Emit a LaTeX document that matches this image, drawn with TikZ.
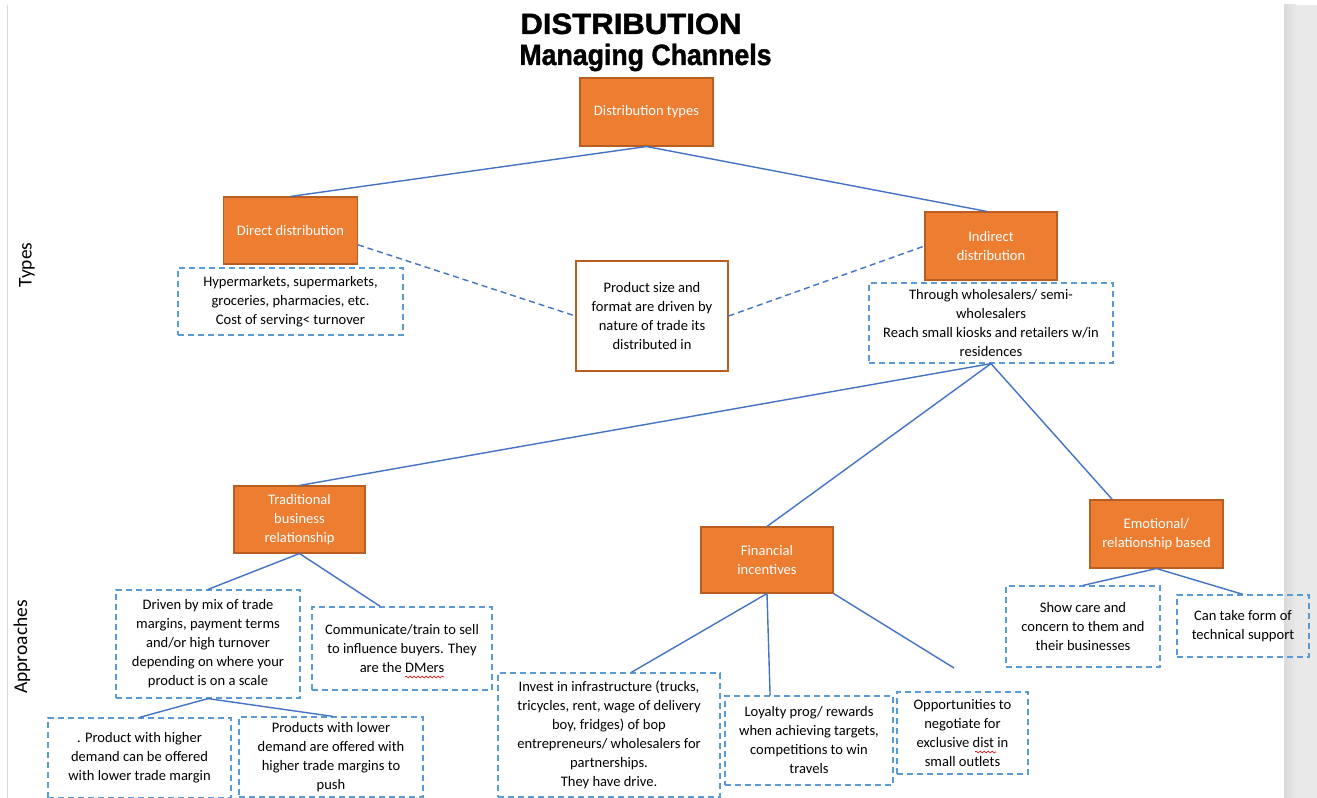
\documentclass[tikz,border=0pt]{standalone}
\usepackage{fontspec}
\setmainfont{Carlito}
\newfontfamily\headfont{Liberation Sans}[BoldFeatures={FakeBold=1.4}]
\usetikzlibrary{calc,decorations.pathmorphing}
\definecolor{orfill}{HTML}{ED7D31}
\definecolor{orline}{HTML}{B85E23}
\definecolor{linkblue}{HTML}{4472C4}
\definecolor{dashblue}{HTML}{5B9BD5}
\definecolor{pagegray}{HTML}{E9E9E9}
\definecolor{edgegray}{HTML}{DADADA}

\tikzset{
  wh/.style 2 args={minimum width=#1*0.75pt,minimum height=#2*0.75pt},
  txt/.style={font=\fontsize{10.9}{14.25}\selectfont,align=center,inner sep=0pt},
  orbox/.style={txt,fill=orfill,draw=orline,line width=0.8pt,text=white},
  dbox/.style={txt,draw=dashblue,line width=0.9pt,dash pattern=on 4.5pt off 3pt},
  sbox/.style={txt,draw=orline,line width=0.9pt},
  link/.style={draw=linkblue,line width=1.05pt},
  dlink/.style={link,dash pattern=on 4.5pt off 3pt},
  side/.style={font=\fontsize{14.6}{17}\selectfont,rotate=90,inner sep=0pt},
  head/.style={font=\headfont\bfseries\fontsize{22}{24}\selectfont,inner sep=0pt,anchor=base},
  squig/.style={draw=red,line width=0.5pt,decorate,decoration={snake,amplitude=0.7pt,segment length=3pt}}
}

\begin{document}
\begin{tikzpicture}[x=0.75pt,y=-0.75pt]

% page frame
\useasboundingbox (0,0) rectangle (1317,798);
\fill[white] (0,0) rectangle (1317,798);
\shade[left color=edgegray,right color=pagegray] (1284,5) rectangle (1296,798);
\fill[pagegray] (1296,5) rectangle (1317,798);
\draw[edgegray,line width=0.6pt] (7.5,5) -- (7.5,798);

% headings
\node[head] (title1) at (631,34) {\scalebox{1.06}[1]{DISTRIBUTION}};
\node[head] (title2) at (645.5,65) {\scalebox{0.91}[1]{Managing Channels}};
\node[side] (types) at (27,265) {Types};
\node[side] (appr) at (22,647) {Approaches};

% level 1 and 2: distribution types
\node[orbox,wh={133}{68}] (dtypes) at (646.5,112) {Distribution types};
\node[orbox,wh={134}{67}] (direct) at (290.5,230.5) {Direct distribution};
\node[orbox,wh={132}{68}] (indirect) at (991,246) {Indirect\\distribution};
\node[dbox,wh={225}{67}] (hyper) at (290.5,301.5) {Hypermarkets, supermarkets,\\groceries, pharmacies, etc.\\Cost of serving< turnover};
\node[sbox,wh={152}{110}] (prodsize) at (652,316) {Product size and\\format are driven by\\nature of trade its\\distributed in};
\node[dbox,wh={244}{80}] (through) at (991,323) {Through wholesalers/ semi-\\wholesalers\\Reach small kiosks and retailers w/in\\residences};

% approaches
\node[orbox,wh={131}{67}] (trad) at (299.5,519.5) {Traditional\\business\\relationship};
\node[orbox,wh={132}{66}] (fin) at (767,560) {Financial\\incentives};
\node[orbox,wh={133}{68}] (emo) at (1156.5,534) {Emotional/\\relationship based};

\node[dbox,wh={184}{108}] (driven) at (208,644) {Driven by mix of trade\\margins, payment terms\\and/or high turnover\\depending on where your\\product is on a scale};
\node[dbox,wh={180}{83}] (comm) at (402,648.5) {Communicate/train to sell\\to influence buyers. They\\are the DMers};
\node[dbox,wh={183}{80}] (higher) at (139.5,758) {. Product with higher\\demand can be offered\\with lower trade margin};
\node[dbox,wh={184}{80}] (lower) at (331,757) {Products with lower\\demand are offered with\\higher trade margins to\\push};
\node[dbox,wh={222}{124}] (invest) at (609,735) {Invest in infrastructure (trucks,\\tricycles, rent, wage of delivery\\boy, fridges) of bop\\entrepreneurs/ wholesalers for\\partnerships.\\They have drive.};
\node[dbox,wh={168}{89}] (loyalty) at (809,740.5) {Loyalty prog/ rewards\\when achieving targets,\\competitions to win\\travels};
\node[dbox,wh={131}{82}] (opport) at (962.5,733) {Opportunities to\\negotiate for\\exclusive dist in\\small outlets};
\node[dbox,wh={154}{81}] (care) at (1083,626.5) {Show care and\\concern to them and\\their businesses};
\node[dbox,wh={132}{62}] (tech) at (1243,626) {Can take form of\\technical support};

% spelling marks under two words
\draw[squig] (405,677) -- (444,677);
\draw[squig] (975,752) -- (996,752);

% connectors
\coordinate (finend) at (954,668);
\draw[link] (dtypes.south) -- (direct.north);
\draw[link] (dtypes.south) -- ($(indirect.north west)!0.47!(indirect.north east)$);
\draw[dlink] (direct.-12) -- (prodsize.west);
\draw[dlink] (prodsize.east) -- (indirect.west);
\draw[link] (through.south) -- (trad.north);
\draw[link] (through.south) -- (fin.north);
\draw[link] (through.south) -- ($(emo.north west)!0.17!(emo.north east)$);
\draw[link] (trad.south) -- (driven.north);
\draw[link] (trad.south) -- ($(comm.north west)!0.38!(comm.north east)$);
\draw[link] (driven.south) -- (higher.north);
\draw[link] (driven.south) -- ($(lower.north west)!0.51!(lower.north east)$);
\draw[link] (fin.south) -- ($(invest.north west)!0.6!(invest.north east)$);
\draw[link] (fin.south) -- ($(loyalty.north west)!0.27!(loyalty.north east)$);
\draw[link] (fin.south east) -- (finend);
\draw[link] (emo.south) -- (care.north);
\draw[link] (emo.south) -- (tech.north);
\end{tikzpicture}
\end{document}
